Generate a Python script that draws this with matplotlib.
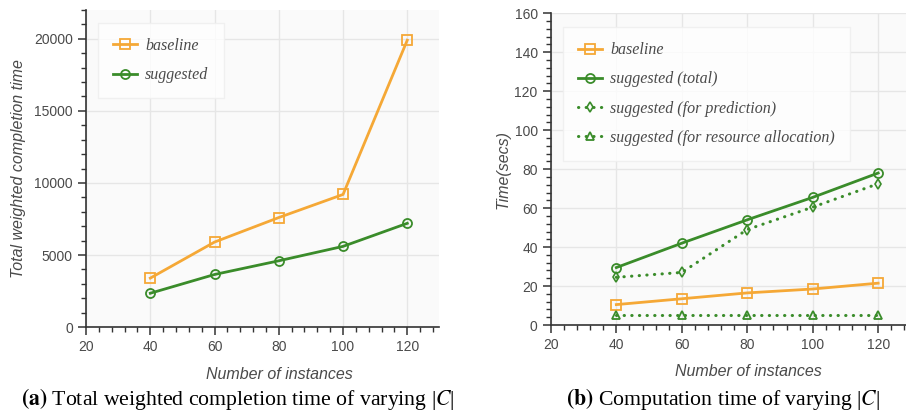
import matplotlib
matplotlib.use("Agg")
import matplotlib.pyplot as plt
from matplotlib.ticker import MultipleLocator

# data
instances = [40, 60, 80, 100, 120]

# (a) total weighted completion time
wct_baseline = [3400, 5900, 7600, 9200, 19900]
wct_suggested = [2350, 3650, 4600, 5600, 7200]

# (b) computation time (secs)
ct_baseline = [10.5, 13.5, 16.5, 18.5, 21.5]
ct_total = [29.5, 42, 54, 65.5, 78]
ct_prediction = [24.5, 27, 49, 60.5, 72.5]
ct_allocation = [5, 5, 5, 5, 5]

ORANGE = "#f5a836"
GREEN = "#3a8c2a"
GREY = "#4a4a4a"
DOTS = (0, (0.1, 2.4))

plt.rcParams["mathtext.fontset"] = "stix"
plt.rcParams["font.family"] = ["Liberation Sans", "DejaVu Sans"]


def style_axes(ax, xlabel_x):
	ax.set_facecolor("#fafafa")
	ax.grid(True, color="#e6e6e6", lw=1)
	ax.set_axisbelow(True)
	for s in ("top", "right"):
		ax.spines[s].set_visible(False)
	for s in ("left", "bottom"):
		ax.spines[s].set_color("#333333")
		ax.spines[s].set_linewidth(1.2)
	ax.tick_params(which="major", direction="out", length=6, width=1.1,
				   color="#333333", labelcolor=GREY, labelsize=10)
	ax.tick_params(which="minor", direction="out", length=3.5, width=1,
				   color="#333333")
	ax.xaxis.set_major_locator(MultipleLocator(20))
	ax.xaxis.set_minor_locator(MultipleLocator(4))
	ax.set_xlabel("Number of instances", fontsize=11.5, style="italic",
				  color=GREY, labelpad=8)
	ax.xaxis.set_label_coords(xlabel_x, -0.125)


def legend(ax, anchor):
	lg = ax.legend(prop={"family": "Liberation Serif", "style": "italic", "size": 11.5},
				   loc="upper left", bbox_to_anchor=anchor, borderaxespad=0,
				   frameon=True, fancybox=False, handlelength=1.5,
				   handletextpad=0.5, labelspacing=0.82, borderpad=0.95)
	lg.get_frame().set_edgecolor("#eeeeee")
	lg.get_frame().set_linewidth(1)
	for t in lg.get_texts():
		t.set_color(GREY)
	return lg


fig = plt.figure(figsize=(9.06, 4.12), dpi=100)

## (a)
ax1 = fig.add_axes([0.095, 0.206, 0.39, 0.770])
style_axes(ax1, 0.547)
ax1.plot(instances, wct_baseline, color=ORANGE, lw=2, marker="s", ms=6.5,
		 mfc="none", mew=1.3, label="baseline")
ax1.plot(instances, wct_suggested, color=GREEN, lw=2, marker="o", ms=6.5,
		 mfc="none", mew=1.3, label="suggested")
ax1.set_xlim(20, 130)
ax1.set_ylim(0, 22000)
ax1.yaxis.set_major_locator(MultipleLocator(5000))
ax1.yaxis.set_minor_locator(MultipleLocator(1000))
ax1.set_ylabel("Total weighted completion time", fontsize=11.5, style="italic",
			   color=GREY, labelpad=6)
legend(ax1, (0.034, 0.959))

## (b)
ax2 = fig.add_axes([0.608, 0.211, 0.392, 0.757])
style_axes(ax2, 0.555)
ax2.plot(instances, ct_baseline, color=ORANGE, lw=2, marker="s", ms=6.5,
		 mfc="none", mew=1.3, label="baseline")
ax2.plot(instances, ct_total, color=GREEN, lw=2, marker="o", ms=6.5,
		 mfc="none", mew=1.3, label="suggested (total)")
ax2.plot(instances, ct_prediction, color=GREEN, lw=2.2, ls=DOTS,
		 dash_capstyle="round", marker="d", ms=5.5, mfc="none", mew=1.2,
		 label="suggested (for prediction)")
ax2.plot(instances, ct_allocation, color=GREEN, lw=2.2, ls=DOTS,
		 dash_capstyle="round", marker="^", ms=6, mfc="none", mew=1.3,
		 label="suggested (for resource allocation)")
ax2.set_xlim(20, 128.5)
ax2.set_ylim(0, 160)
ax2.yaxis.set_major_locator(MultipleLocator(20))
ax2.yaxis.set_minor_locator(MultipleLocator(4))
ax2.set_ylabel("Time(secs)", fontsize=11.5, style="italic", color=GREY, labelpad=3)
legend(ax2, (0.034, 0.955))

## captions
fig.text(0.262, 0.032, r"$\mathbf{(a)}$ Total weighted completion time of varying |$C$|",
		 ha="center", va="center", family="Liberation Serif", fontsize=15.7)
fig.text(0.7986, 0.032, r"$\mathbf{(b)}$ Computation time of varying |$C$|",
		 ha="center", va="center", family="Liberation Serif", fontsize=15.7)

fig.savefig("out.png", dpi=100)
